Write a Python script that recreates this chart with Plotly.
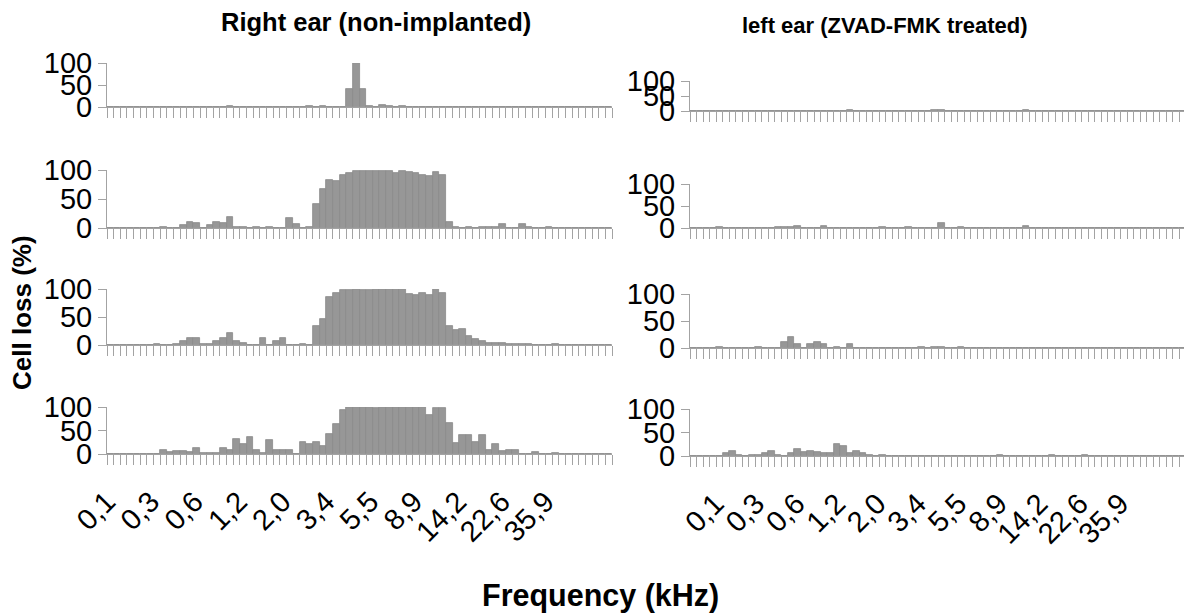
import plotly.graph_objects as go

# frequency bins along the cochlea, 76 per panel
freq_labels = ["0,1", "0,3", "0,6", "1,2", "2,0", "3,4", "5,5", "8,9", "14,2", "22,6", "35,9"]

# Right ear (non-implanted), cell loss % per bin, rows top to bottom
right_ear_1 = [0, 0, 0, 0, 0, 0, 0, 0, 0, 0,
               0, 0, 0, 0, 0, 0, 0, 0, 2, 0,
               0, 0, 0, 0, 0, 0, 0, 0, 0, 0,
               2, 0, 2, 0, 0, 0, 40, 100, 40, 2,
               0, 5, 3, 0, 2, 0, 0, 0, 0, 0,
               0, 0, 0, 0, 0, 0, 0, 0, 0, 0,
               0, 0, 0, 0, 0, 0, 0, 0, 0, 0,
               0, 0, 0, 0, 0, 0]
right_ear_2 = [0, 0, 0, 0, 0, 0, 0, 0, 2, 0,
               0, 6, 10, 8, 0, 6, 10, 8, 19, 2,
               2, 0, 2, 0, 2, 0, 0, 17, 7, 0,
               2, 42, 67, 83, 81, 91, 94, 99, 99, 99,
               98, 99, 99, 94, 99, 97, 94, 92, 89, 97,
               91, 10, 2, 0, 2, 0, 2, 2, 2, 7,
               0, 0, 7, 2, 0, 0, 2, 0, 0, 0,
               0, 0, 0, 0, 0, 0]
right_ear_3 = [0, 0, 0, 0, 0, 0, 0, 2, 0, 0,
               2, 8, 12, 12, 2, 2, 8, 12, 21, 8,
               4, 0, 0, 12, 0, 8, 12, 0, 0, 2,
               0, 34, 46, 85, 92, 98, 98, 100, 99, 98,
               100, 100, 100, 100, 100, 91, 89, 92, 89, 100,
               92, 34, 26, 28, 16, 11, 8, 3, 3, 3,
               2, 2, 2, 2, 0, 0, 0, 2, 0, 0,
               0, 0, 0, 0, 0, 0]
right_ear_4 = [0, 0, 0, 0, 0, 0, 0, 0, 9, 4,
               6, 6, 4, 13, 2, 2, 2, 13, 9, 32,
               21, 36, 9, 2, 29, 9, 9, 9, 0, 26,
               21, 26, 16, 43, 64, 94, 100, 100, 100, 100,
               98, 100, 100, 100, 100, 100, 100, 100, 84, 98,
               98, 65, 23, 41, 41, 26, 41, 9, 21, 6,
               9, 9, 0, 0, 4, 0, 0, 2, 0, 0,
               0, 0, 0, 0, 0, 0]

# Left ear (ZVAD-FMK treated)
left_ear_1 = [0, 0, 0, 0, 0, 0, 0, 0, 0, 0,
              0, 0, 0, 0, 0, 0, 0, 0, 0, 0,
              0, 0, 0, 0, 2, 0, 0, 0, 0, 0,
              0, 0, 0, 0, 0, 0, 0, 2, 2, 0,
              0, 0, 0, 0, 0, 0, 0, 0, 0, 0,
              0, 2, 0, 0, 0, 0, 0, 0, 0, 0,
              0, 0, 0, 0, 0, 0, 0, 0, 0, 0,
              0, 0, 0, 0, 0, 0]
left_ear_2 = [0, 0, 0, 0, 2, 0, 0, 0, 0, 0,
              0, 0, 0, 2, 2, 2, 4, 0, 0, 0,
              4, 0, 0, 0, 0, 0, 0, 0, 0, 2,
              0, 0, 0, 2, 0, 0, 0, 0, 12, 0,
              0, 2, 0, 0, 0, 0, 0, 0, 0, 0,
              0, 4, 0, 0, 0, 0, 0, 0, 0, 0,
              0, 0, 0, 0, 0, 0, 0, 0, 0, 0,
              0, 0, 0, 0, 0, 0]
left_ear_3 = [0, 0, 0, 0, 2, 0, 0, 0, 0, 0,
              2, 0, 0, 0, 12, 20, 8, 0, 8, 12,
              8, 0, 2, 0, 8, 0, 0, 0, 0, 0,
              0, 0, 0, 0, 0, 2, 0, 2, 2, 0,
              0, 2, 0, 0, 0, 0, 0, 0, 0, 0,
              0, 0, 0, 0, 0, 0, 0, 0, 0, 0,
              0, 0, 0, 0, 0, 0, 0, 0, 0, 0,
              0, 0, 0, 0, 0, 0]
left_ear_4 = [0, 0, 0, 0, 0, 7, 11, 3, 0, 3,
              3, 7, 11, 3, 0, 7, 14, 9, 11, 9,
              6, 6, 26, 21, 7, 11, 7, 3, 0, 3,
              0, 0, 0, 0, 0, 0, 0, 0, 0, 0,
              0, 0, 0, 0, 0, 0, 0, 2, 0, 0,
              0, 0, 0, 0, 0, 2, 0, 0, 0, 0,
              2, 0, 0, 0, 0, 0, 0, 0, 0, 0,
              0, 0, 0, 0, 0, 0]

# page body adds an 8px margin, so the figure is drawn 8px smaller
# and all pixel positions below are page coordinates minus that offset
OFF = 8
W, H = 1192 - OFF, 616 - OFF
GREY_AX = "#a3a3a3"
BAR = "#979797"


def fx(px):
    return (px - OFF) / W


def fy(py):
    return 1 - (py - OFF) / H


panels = [
    [right_ear_1, left_ear_1],
    [right_ear_2, left_ear_2],
    [right_ear_3, left_ear_3],
    [right_ear_4, left_ear_4],
]

# pixel boxes (top, bottom) of every small plot
left_rows = [(63, 107), (170, 228), (289, 345), (407, 454)]
right_rows = [(81, 111), (184, 228), (294, 348), (409, 456)]
col_x = [(107, 612), (690, 1186)]
rows_px = [left_rows, right_rows]

# where the frequency labels sit along each panel (in bin units)
label_pos = [
    [-0.5 + i * 6.6 for i in range(len(freq_labels))],
    [3.4 + i * 6.2 for i in range(len(freq_labels))],
]

fig = go.Figure()
layout = {}

for r in range(4):
    for c in range(2):
        n = r * 2 + c + 1
        vals = panels[r][c]
        xs = list(range(len(vals)))
        fig.add_trace(go.Bar(
            x=xs, y=vals,
            xaxis=f"x{n}", yaxis=f"y{n}",
            marker=dict(color=BAR, line=dict(color="#8a8a8a", width=0.8)),
            showlegend=False,
        ))
        top, bot = rows_px[c][r]
        x0, x1 = col_x[c]
        bottom_row = r == 3
        layout[f"xaxis{n}"] = dict(
            domain=[fx(x0), min(fx(x1), 1)],
            anchor=f"y{n}",
            automargin=False,
            range=[-0.5, len(vals) - 0.5],
            showline=True, linecolor=GREY_AX, linewidth=1,
            showgrid=False, zeroline=False,
            ticks="",
            minor=dict(ticks="outside", ticklen=10, tickcolor=GREY_AX,
                       tick0=0.5, dtick=1, showgrid=False),
            showticklabels=bottom_row,
            tickmode="array",
            tickvals=label_pos[c],
            ticktext=freq_labels,
            tickangle=-45,
            ticklabelstandoff=18,
            tickfont=dict(size=29, color="black"),
        )
        layout[f"yaxis{n}"] = dict(
            domain=[fy(bot), fy(top)],
            anchor=f"x{n}",
            automargin=False,
            range=[0, 100],
            tickmode="array",
            tickvals=[0, 50, 100],
            ticktext=["0", "50", "100"],
            ticks="outside", ticklen=8, tickcolor=GREY_AX,
            showline=True, linecolor=GREY_AX, linewidth=1,
            showgrid=False, zeroline=False,
            tickfont=dict(size=29, color="black"),
        )

fig.update_layout(
    width=W, height=H,
    autosize=False,
    margin=dict(l=0, r=0, t=0, b=0, pad=0, autoexpand=False),
    paper_bgcolor="white", plot_bgcolor="white",
    bargap=0,
    font=dict(family="Liberation Sans, Arial, sans-serif", color="black"),
    **layout,
)

titles = [
    ("<b>Right ear (non-implanted)</b>", 376, 22, 25.5, 0),
    ("<b>left ear (ZVAD-FMK treated)</b>", 885, 25, 22, 0),
    ("<b>Cell loss (%)</b>", 22, 313, 26, -90),
    ("<b>Frequency (kHz)</b>", 600, 595, 30.5, 0),
]
for text, px, py, size, ang in titles:
    fig.add_annotation(text=text, x=fx(px), y=fy(py), xref="paper", yref="paper",
                       xanchor="center", yanchor="middle", textangle=ang,
                       showarrow=False, font=dict(size=size))

fig.write_html("out.html")
